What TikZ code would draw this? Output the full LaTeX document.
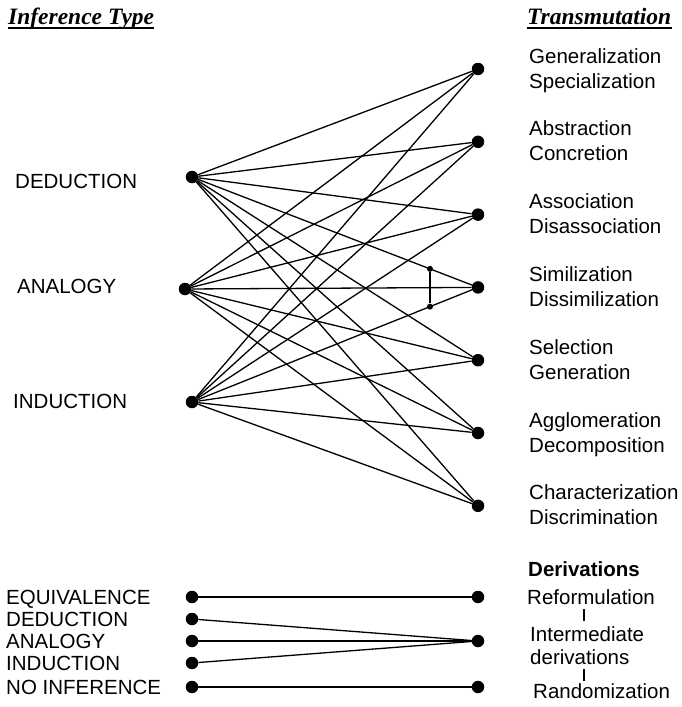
\documentclass[tikz,border=0pt]{standalone}
\usepackage{fontspec}
\setmainfont{Liberation Sans}
\newfontfamily\hdrfont{Liberation Serif}
\usetikzlibrary{calc}
\tikzset{
  x=1pt, y=-1pt,
  lbl/.style={anchor=base west, inner sep=0pt, font=\fontsize{20.5}{22}\selectfont},
  hdr/.style={anchor=base west, inner sep=0pt, font=\hdrfont\bfseries\itshape\fontsize{23.5}{26}\selectfont},
  bigdot/.style={circle, fill=black, inner sep=0pt, minimum size=12.5pt},
  smalldot/.style={circle, fill=black, inner sep=0pt, minimum size=6pt},
  link/.style={line width=1.3pt},
  bar/.style={line width=1.3pt}
}
\begin{document}
\begin{tikzpicture}
\useasboundingbox (0,0) rectangle (681,707);
% headers
\node[hdr] (h1) at (8,24) {Inference Type};
\draw[line width=1.6pt] ([yshift=-4pt]h1.base west) -- ([yshift=-4pt]h1.base east);
\node[hdr] (h2) at (527,24) {Transmutation};
\draw[line width=1.6pt] ([yshift=-4pt]h2.base west) -- ([yshift=-4pt]h2.base east);
% left labels and dots
\node[lbl] (lD) at (15,188) {DEDUCTION};
\node[lbl] (lA) at (17,293) {ANALOGY};
\node[lbl] (lI) at (13,408) {INDUCTION};
\node[bigdot] (D) at (192,177) {};
\node[bigdot] (A) at (185,289) {};
\node[bigdot] (I) at (192,402) {};
% right groups
\foreach \k/\ta/\tb in {0/Generalization/Specialization,1/Abstraction/Concretion,2/Association/Disassociation,3/Similization/Dissimilization,4/Selection/Generation,5/Agglomeration/Decomposition,6/Characterization/Discrimination}{
  \node[lbl] (ga\k) at (529,63+72.8*\k) {\ta};
  \node[lbl] (gb\k) at (529,88+72.8*\k) {\tb};
  \node[bigdot] (R\k) at (478,69+72.8*\k) {};
}
% connectors
\foreach \l in {D,A,I}{
  \foreach \k in {0,...,6}{
    \draw[link] (\l) -- (R\k);
  }
}
\coordinate (J1) at ($(D)!0.832!(R3)$);
\coordinate (J2) at ($(I)!0.832!(R3)$);
\node[smalldot] (j1) at (J1) {};
\node[smalldot] (j2) at (J2) {};
\draw[link] (j1) -- (j2);
% bottom section
\node[lbl] (bE) at (6,604) {EQUIVALENCE};
\node[lbl] (bD) at (6,626) {DEDUCTION};
\node[lbl] (bA) at (6,648) {ANALOGY};
\node[lbl] (bI) at (6,670) {INDUCTION};
\node[lbl] (bN) at (6,694) {NO INFERENCE};
\node[bigdot] (sE) at (192,597) {};
\node[bigdot] (sD) at (192,619) {};
\node[bigdot] (sA) at (192,641) {};
\node[bigdot] (sI) at (192,663) {};
\node[bigdot] (sN) at (192,687) {};
\node[bigdot] (tR) at (478,597) {};
\node[bigdot] (tM) at (478,641) {};
\node[bigdot] (tN) at (478,687) {};
\draw[link] (sE) -- (tR);
\draw[link] (sD) -- (tM);
\draw[link] (sA) -- (tM);
\draw[link] (sI) -- (tM);
\draw[link] (sN) -- (tN);
\node[lbl, font=\bfseries\fontsize{20.5}{22}\selectfont] (dv) at (528,576) {Derivations};
\node[lbl] (rf) at (527,604) {Reformulation};
\node[lbl] (im) at (530,641) {Intermediate};
\node[lbl] (dr) at (530,664) {derivations};
\node[lbl] (rn) at (533,698) {Randomization};
\coordinate (b1t) at (584,609);
\coordinate (b1b) at (584,621);
\coordinate (b2t) at (584,669);
\coordinate (b2b) at (584,681);
\draw[bar] (b1t) -- (b1b);
\draw[bar] (b2t) -- (b2b);
\end{tikzpicture}
\end{document}
